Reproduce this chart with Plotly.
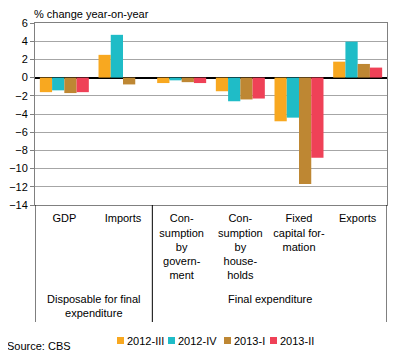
import plotly.graph_objects as go

categories = ["GDP", "Imports", "Consumption by government", "Consumption by households",
              "Fixed capital formation", "Exports"]
tick_labels = ["GDP", "Imports", "Con-<br>sumption<br>by<br>govern-<br>ment",
               "Con-<br>sumption<br>by<br>house-<br>holds", "Fixed<br>capital for-<br>mation", "Exports"]
series_names = ["2012-III", "2012-IV", "2013-I", "2013-II"]
v_2012_III = [-1.6, 2.5, -0.6, -1.5, -4.8, 1.75]
v_2012_IV = [-1.4, 4.7, -0.3, -2.6, -4.4, 3.95]
v_2013_I = [-1.7, -0.75, -0.5, -2.4, -11.7, 1.5]
v_2013_II = [-1.6, 0.0, -0.6, -2.3, -8.8, 1.1]
series_values = [v_2012_III, v_2012_IV, v_2013_I, v_2013_II]
colors = ["#F8A820", "#1FBCC7", "#BE8733", "#EF4157"]
y_ticks = list(range(-14, 7, 2))
group_labels = ["Disposable for final<br>expenditure", "Final expenditure"]

FONT = "Liberation Sans, Arial, sans-serif"
OFF = 8  # page body margin
W, H = 396 - OFF, 363 - OFF
L, T = 35 - OFF, 23 - OFF
R = 396 - 387
B = 363 - 205
PW, PH = W - L - R, H - T - B


def px_x(px):
    return (px - OFF - L) / PW


def px_y(py):
    return (H - B - (py - OFF)) / PH


fig = go.Figure()
xs = list(range(len(categories)))
for name, vals, col in zip(series_names, series_values, colors):
    fig.add_trace(go.Bar(x=xs, y=vals, name=name, marker=dict(color=col, line=dict(width=0)),
                         showlegend=False))

shapes = []
for xv in [-0.5, 1.5, 5.5]:
    shapes.append(dict(type="line", xref="x", yref="paper", x0=xv, x1=xv, y0=0, y1=px_y(322),
                       line=dict(color="#000000", width=1)))
annotations = []
annotations.append(dict(text="% change year-on-year", xref="paper", yref="paper", x=px_x(32), y=px_y(14),
                        xanchor="left", yanchor="middle", showarrow=False,
                        font=dict(family=FONT, size=11, color="#000")))
annotations.append(dict(text=group_labels[0], xref="x", yref="paper", x=0.5, y=px_y(291),
                        xanchor="center", yanchor="top", showarrow=False,
                        font=dict(family=FONT, size=11, color="#000")))
annotations.append(dict(text=group_labels[1], xref="x", yref="paper", x=3.5, y=px_y(291),
                        xanchor="center", yanchor="top", showarrow=False,
                        font=dict(family=FONT, size=11, color="#000")))
annotations.append(dict(text="Source: CBS", xref="paper", yref="paper", x=px_x(5), y=px_y(346),
                        xanchor="left", yanchor="middle", showarrow=False,
                        font=dict(family=FONT, size=11, color="#000")))
leg_sq = [117, 168, 224, 270]
for name, col, sx in zip(series_names, colors, leg_sq):
    shapes.append(dict(type="rect", xref="paper", yref="paper", x0=px_x(sx), x1=px_x(sx + 7),
                       y0=px_y(344), y1=px_y(337), fillcolor=col, line=dict(width=0)))
    annotations.append(dict(text=name, xref="paper", yref="paper", x=px_x(sx + 8), y=px_y(340.5),
                            xanchor="left", yanchor="middle", showarrow=False,
                            font=dict(family=FONT, size=11, color="#000")))

fig.update_layout(
    template="none",
    width=W, height=H, margin=dict(l=L, r=R, t=T, b=B, pad=0, autoexpand=False),
    paper_bgcolor="white", plot_bgcolor="white",
    barmode="group", bargap=0.165, bargroupgap=0,
    font=dict(family=FONT, size=11, color="#000"),
    shapes=shapes, annotations=annotations, showlegend=False,
    xaxis=dict(range=[-0.5, 5.5], tickmode="array", tickvals=xs, ticktext=tick_labels,
               automargin=False,
               showgrid=False, zeroline=False, showline=True, mirror=True, linecolor="#808080",
               linewidth=1, ticks="", tickangle=0, ticklabelstandoff=3,
               tickfont=dict(family=FONT, size=11, color="#000")),
    yaxis=dict(range=[-14, 6], tickmode="array", tickvals=y_ticks, automargin=False,
               showgrid=True, gridcolor="#A6A6A6", gridwidth=1,
               zeroline=True, zerolinecolor="#000000", zerolinewidth=1.5,
               showline=True, mirror=True, linecolor="#808080", linewidth=1,
               ticks="outside", ticklen=4, tickcolor="#808080",
               tickfont=dict(family=FONT, size=11, color="#000")),
)

fig.write_html("out.html")
